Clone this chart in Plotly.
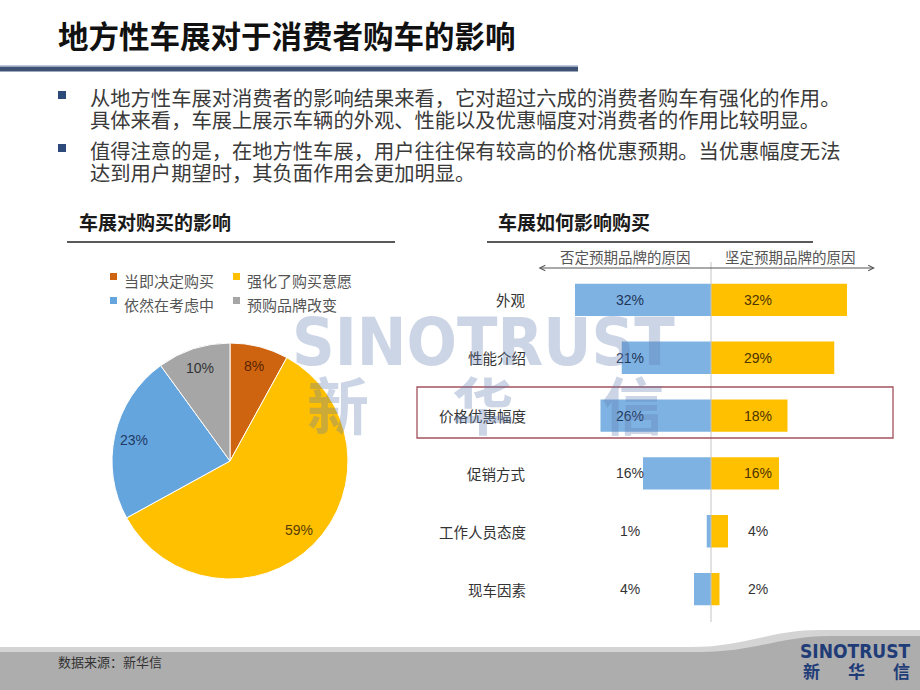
import math
import plotly.graph_objects as go

W, H = 920, 690
FONT = "Noto Sans CJK SC, Noto Sans, sans-serif"

# ---------------- data ----------------
title = "地方性车展对于消费者购车的影响"
bullets = [
    ["从地方性车展对消费者的影响结果来看，它对超过六成的消费者购车有强化的作用。",
     "具体来看，车展上展示车辆的外观、性能以及优惠幅度对消费者的作用比较明显。"],
    ["值得注意的是，在地方性车展，用户往往保有较高的价格优惠预期。当优惠幅度无法",
     "达到用户期望时，其负面作用会更加明显。"],
]
pie_title = "车展对购买的影响"
pie_labels = ["当即决定购买", "强化了购买意愿", "依然在考虑中", "预购品牌改变"]
pie_values = [8, 59, 23, 10]
pie_colors = ["#cf6410", "#ffc000", "#65a5de", "#a6a6a6"]
pie_text_colors = ["#5a2400", "#5a3c00", "#1f3a63", "#333333"]

bar_title = "车展如何影响购买"
bar_header_left = "否定预期品牌的原因"
bar_header_right = "坚定预期品牌的原因"
bar_categories = ["外观", "性能介绍", "价格优惠幅度", "促销方式", "工作人员态度", "现车因素"]
negative_values = [32, 21, 26, 16, 1, 4]   # 否定预期品牌的原因
positive_values = [32, 29, 18, 16, 4, 2]   # 坚定预期品牌的原因

source_text = "数据来源：新华信"
watermark_en = "SINOTRUST"
watermark_cn = ["新", "华", "信"]


def px(x):
    return x / W


def py(y):
    return 1 - y / H


fig = go.Figure()
shapes = []
ann = []


def text(x, y, t, size, color, family=FONT, xanchor="center", weight="normal", **kw):
    ann.append(dict(x=px(x), y=py(y), xref="paper", yref="paper", xanchor=xanchor, yanchor="middle",
                    text=t, showarrow=False,
                    font=dict(family=family, size=size, color=color, weight=weight), **kw))


# ---------------- header ----------------
text(56, 35, title, 30.5, "#111111", xanchor="left", weight="bold")
shapes.append(dict(type="line", xref="paper", yref="paper", x0=0, x1=px(578), y0=py(65.5), y1=py(65.5),
                   line=dict(color="#b8c8de", width=1)))
shapes.append(dict(type="line", xref="paper", yref="paper", x0=0, x1=px(578), y0=py(69), y1=py(69),
                   line=dict(color="#3f5275", width=5)))

line_y = [[97, 119], [150, 172]]
for bi, lines in enumerate(bullets):
    yy0 = line_y[bi][0]
    shapes.append(dict(type="rect", xref="paper", yref="paper",
                       x0=px(58), x1=px(66), y0=py(yy0 - 6), y1=py(yy0 + 2),
                       fillcolor="#2e4a7a", line=dict(width=0)))
    for li, txt in enumerate(lines):
        text(88, line_y[bi][li], txt, 20.3, "#3a3a3a", xanchor="left")

# ---------------- section titles ----------------
for tx, txt, lx0, lx1 in [(77, pie_title, 67, 395), (496, bar_title, 487, 813)]:
    text(tx, 222, txt, 19, "#1a1a1a", xanchor="left", weight="bold")
    shapes.append(dict(type="line", xref="paper", yref="paper", x0=px(lx0), x1=px(lx1),
                       y0=py(242), y1=py(242), line=dict(color="#222222", width=1.5)))

# ---------------- pie ----------------
pie_cx, pie_cy, pie_r = 230, 461, 118
fig.add_trace(go.Pie(
    values=pie_values, labels=pie_labels, sort=False, direction="clockwise", rotation=0,
    marker=dict(colors=pie_colors, line=dict(color="white", width=1)),
    textinfo="none", hoverinfo="label+percent", showlegend=False,
    domain=dict(x=[px(pie_cx - pie_r), px(pie_cx + pie_r)], y=[py(pie_cy + pie_r), py(pie_cy - pie_r)]),
))
cum = 0
total = sum(pie_values)
for v, c in zip(pie_values, pie_text_colors):
    mid = 2 * math.pi * (cum + v / 2) / total
    cum += v
    lx = pie_cx + 0.83 * pie_r * math.sin(mid)
    ly = pie_cy - 0.83 * pie_r * math.cos(mid)
    text(lx, ly, f"{v}%", 14, c, family="Liberation Sans, Arial, sans-serif")

# manual legend (2 columns)
leg_pos = [(114, 277), (237, 277), (114, 301), (237, 301)]
for (lx, ly), lab, col in zip(leg_pos, pie_labels, pie_colors):
    shapes.append(dict(type="rect", xref="paper", yref="paper", x0=px(lx - 4), x1=px(lx + 3),
                       y0=py(ly - 4), y1=py(ly + 3), fillcolor=col, line=dict(width=0)))
    text(lx + 8, ly + 3, lab, 15, "#555555", xanchor="left")

# ---------------- diverging bars ----------------
fig.add_trace(go.Bar(
    y=bar_categories, x=[-v for v in negative_values], orientation="h", width=0.56,
    marker=dict(color="#7eb2e3", line=dict(width=0)), name=bar_header_left,
    xaxis="x", yaxis="y", showlegend=False,
    customdata=negative_values, hovertemplate="%{y}: %{customdata}%<extra></extra>",
))
fig.add_trace(go.Bar(
    y=bar_categories, x=positive_values, orientation="h", width=0.56,
    marker=dict(color="#ffc000", line=dict(width=0)), name=bar_header_right,
    xaxis="x", yaxis="y", showlegend=False,
    hovertemplate="%{y}: %{x}%<extra></extra>",
))

for cat, nv, pv in zip(bar_categories, negative_values, positive_values):
    ann.append(dict(x=px(528), y=cat, xref="paper", yref="y", xanchor="right", yanchor="middle",
                    text=cat, showarrow=False, font=dict(family=FONT, size=14.5, color="#333333")))
    ann.append(dict(x=-19, y=cat, xref="x", yref="y", xanchor="center", text=f"{nv}%", showarrow=False,
                    font=dict(family="Liberation Sans, Arial, sans-serif", size=14,
                              color="#1f3558" if nv >= 20 else "#333333")))
    ann.append(dict(x=11, y=cat, xref="x", yref="y", xanchor="center", text=f"{pv}%", showarrow=False,
                    font=dict(family="Liberation Sans, Arial, sans-serif", size=14,
                              color="#4d3300" if pv >= 14 else "#333333")))

# centre line
shapes.append(dict(type="line", xref="x", yref="paper", x0=0, x1=0, y0=py(262), y1=py(622),
                   line=dict(color="#c4c4c4", width=1), layer="above"))

# header double arrow and texts
ann.append(dict(x=px(875), y=py(268), xref="paper", yref="paper", text="", showarrow=True,
                ax=-(875 - 537), ay=0, axref="pixel", ayref="pixel", arrowhead=5, arrowsize=1.1,
                arrowside="end+start", arrowwidth=1, arrowcolor="#555555", standoff=0, startstandoff=0))
text(625, 257, bar_header_left, 14.5, "#555555")
text(790, 257, bar_header_right, 14.5, "#555555")

# highlight box
shapes.append(dict(type="rect", xref="paper", yref="paper", x0=px(417), x1=px(893), y0=py(438), y1=py(387),
                   line=dict(color="#a4515d", width=1.3), fillcolor="rgba(0,0,0,0)"))

# ---------------- watermark ----------------
WM = "rgba(95,125,175,0.32)"
text(483, 342, watermark_en, 66, WM,
     family="Liberation Sans Narrow, DejaVu Sans Condensed, Liberation Sans, sans-serif", weight="bold")
for ch, cx in zip(watermark_cn, [338, 483, 633]):
    text(cx, 403, ch, 62, WM, weight="bold")

# ---------------- footer ----------------
shapes.append(dict(type="path", xref="paper", yref="paper",
                   path=(f"M {px(0)},{py(647)} L {px(690)},{py(647)} "
                         f"C {px(745)},{py(647)} {px(770)},{py(630)} {px(820)},{py(630)} "
                         f"L {px(920)},{py(630)} L {px(920)},{py(690)} L {px(0)},{py(690)} Z"),
                   fillcolor="#d4d4d4", line=dict(width=0), layer="below"))
shapes.append(dict(type="path", xref="paper", yref="paper",
                   path=(f"M {px(0)},{py(652)} L {px(700)},{py(652)} "
                         f"C {px(755)},{py(652)} {px(780)},{py(636)} {px(830)},{py(636)} "
                         f"L {px(920)},{py(636)} L {px(920)},{py(690)} L {px(0)},{py(690)} Z"),
                   fillcolor="#adadad", line=dict(width=0), layer="below"))
text(56, 661, source_text, 13, "#333333", xanchor="left")
text(855, 651, watermark_en, 19, "#1f3c78",
     family="Liberation Sans Narrow, DejaVu Sans Condensed, Liberation Sans, sans-serif", weight="bold")
for ch, cx in zip(watermark_cn, [811, 856, 901]):
    text(cx, 670, ch, 17, "#1f3c78", weight="bold")

# ---------------- layout ----------------
fig.update_layout(
    width=W, height=H, margin=dict(l=0, r=0, t=0, b=0),
    paper_bgcolor="white", plot_bgcolor="rgba(0,0,0,0)",
    barmode="relative", bargap=0.4,
    xaxis=dict(domain=[px(566.5), px(881)], range=[-34, 40], visible=False, fixedrange=True),
    yaxis=dict(domain=[py(618), py(271)], range=[5.5, -0.5], visible=False,
               categoryorder="array", categoryarray=bar_categories, fixedrange=True),
    shapes=shapes, annotations=ann, showlegend=False,
)

fig.write_html("out.html")
